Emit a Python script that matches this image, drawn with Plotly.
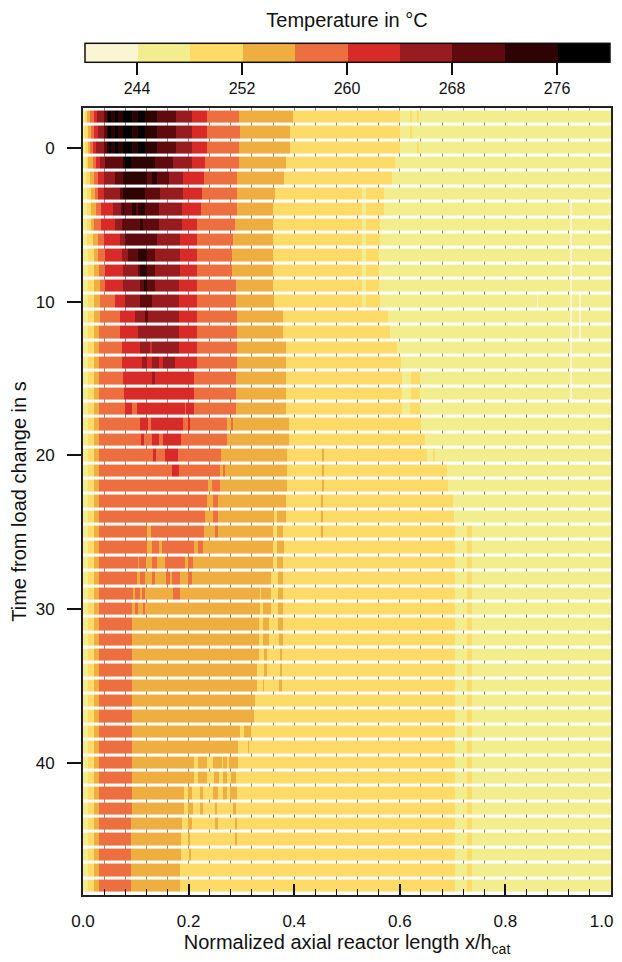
import numpy as np
import plotly.graph_objects as go

# ---------------- data ----------------
times = list(range(-2, 49))          # one row per second
N = None

# x positions where the temperature rises above / falls below each threshold (°C)
rise_248 = [.003, .004, .004, .005, .006, .007, .007, .007, .008, .009, .009, .010] + [.009] * 5 + [.010] * 34
rise_252 = [.007, .009, .009, .010, .013, .016, .016, .016, .018, .020, .020, .021] + [.020] * 39
rise_256 = [.013, .015, .013, .018, .020, .023, .024, .021, .029, .029, .030, .032, .032, .032] + [.030] * 37
rise_260 = [.020, .020, .018, .024, .029, .029, .035, .035, .039, .042, .042, .042, .061, .070, .070,
            .073, .073, .076, .078, .080, .108, .152, .155, .169] + [N] * 27
rise_264 = [.026, .028, .024, .032, .039, .040, .056, .061, .070, .073, .076, .076, .080, .098, .105,
            .108, .111] + [N] * 34
rise_268 = [.039, .039, .039, .042, .061, .070, .072, .073, .080, .086, .105, .108, .108] + [N] * 38
rise_272 = [.045, .045, .045, .076, .076, .076, .105, .108] + [N] * 43
rise_276 = [.076, .076, .076, .080] + [N] * 47

fall_248 = [.600, .600, .600, .590, .586, .570, .570, .563, .563, .560, .560, .560, .563, .578, .581,
            .594, .602, .638, .638, .638, .641, .648, .667, .689, .692, .700, .703] + [.705] * 24
fall_252 = [.397, .392, .392, .385, .381, .364, .359, .359, .360, .360, .360, .360, .362, .379, .379,
            .385, .385, .385, .385, .385, .391, .391, .386, .387, .387, .385, .362, .359, .360, .360,
            .356, .336, .335, .333, .333, .333, .330, .330, .326, .324, .297, .294, .234, .234, .192,
            .192, .187, .186, .186, .184, .184]
fall_256 = [.295, .298, .295, .295, .292, .292, .291, .288, .285, .282, .282, .290, .290, .291, .292,
            .292, .292, .290, .290, .290, .285, .279, .262, .269, .259, .256, .255, .255, .228, .209,
            .206, .095, .093, .093] + [.092] * 12 + [.091] * 5
fall_260 = [.234, .234, .234, .231, .230, .226, .224] + [.216] * 10 + [.210] * 3 + [.190, .186, .179, .181] + [N] * 27
fall_264 = [.206, .206, .206, .206, .190, .190, .187, .187, .184, .184, .184, .181, .181, .181, .181,
            .181, .174] + [N] * 34
fall_268 = [.177, .177, .177, .171, .162, .146, .143, .143, .140, .136, .136, .136, .130] + [N] * 38
fall_272 = [.140, .140, .140, .136, .121, .117, .117, .114] + [N] * 43
fall_276 = [.117, .117, .117, .091] + [N] * 47

# local streaks: (time, x from, x to, temperature bin index 0..9)
patches = [
    (-2, .048, .053, 9), (-2, .061, .066, 9), (-2, .092, .105, 8),
    (-1, .048, .053, 9), (-1, .061, .066, 9), (-1, .092, .104, 8),
    (0, .049, .053, 9), (0, .061, .066, 9), (0, .092, .105, 8),
    (2, .131, .140, 8), (4, .075, .078, 8), (4, .092, .100, 8),
    (7, .105, .121, 8), (8, .108, .121, 8), (9, .116, .122, 8),
    (11, .118, .124, 7), (13, .127, .131, 5), (14, .121, .130, 5), (14, .143, .152, 5),
    (15, .131, .136, 6), (17, .092, .102, 4), (17, .193, .196, 4),
    (18, .124, .129, 4), (18, .199, .203, 5), (18, .272, .280, 3),
    (19, .110, .116, 5), (19, .131, .144, 5), (19, .272, .282, 3),
    (20, .133, .138, 5), (20, .452, .456, 3), (20, .651, .663, 1),
    (21, .259, .266, 3), (21, .452, .456, 3), (22, .237, .245, 3), (22, .452, .456, 3),
    (23, .234, .247, 3), (23, .450, .455, 3),
    (24, .231, .247, 3), (24, .368, .385, 3), (24, .450, .455, 3),
    (25, .121, .129, 3), (25, .230, .250, 3), (25, .367, .379, 3), (25, .450, .455, 3),
    (26, .121, .131, 3), (26, .143, .150, 3), (26, .211, .218, 3), (26, .367, .380, 3),
    (27, .104, .106, 3), (27, .119, .131, 3), (27, .140, .155, 3), (27, .193, .198, 3), (27, .368, .378, 3),
    (28, .102, .108, 3), (28, .117, .131, 3), (28, .136, .158, 3), (28, .165, .169, 3), (28, .184, .199, 3),
    (28, .370, .378, 3),
    (29, .098, .108, 4), (29, .111, .117, 4), (29, .171, .184, 4), (29, .338, .356, 3), (29, .370, .378, 3),
    (30, .099, .104, 4), (30, .114, .117, 4), (30, .340, .356, 3), (30, .370, .378, 3),
    (31, .340, .353, 3), (31, .370, .378, 3), (32, .341, .353, 3), (32, .372, .378, 3),
    (33, .343, .348, 3), (33, .374, .377, 3), (34, .343, .348, 3), (34, .374, .377, 3),
    (35, .341, .343, 3), (35, .372, .377, 3),
    (38, .304, .319, 3), (39, .312, .314, 3),
    (40, .211, .217, 2), (40, .247, .263, 3), (40, .266, .273, 3), (40, .277, .294, 3),
    (41, .211, .217, 2), (41, .248, .257, 3), (41, .266, .272, 3), (41, .280, .290, 3),
    (42, .198, .207, 3), (42, .222, .228, 3), (42, .247, .256, 3), (42, .266, .272, 3), (42, .278, .291, 3),
    (43, .198, .209, 3), (43, .222, .228, 3), (43, .250, .254, 3), (43, .285, .290, 3),
    (44, .199, .206, 3), (44, .250, .255, 3), (44, .288, .291, 3),
    (45, .199, .203, 3), (45, .288, .291, 3), (46, .200, .204, 3),
    (-2, .620, .624, 2), (-2, .632, .636, 2), (-1, .620, .624, 2), (0, .632, .636, 2),
    (15, .604, .622, 1), (16, .604, .622, 1), (17, .604, .620, 1),
    (10, .859, .862, 0), (10, .939, .944, 0), (11, .939, .944, 0), (12, .939, .944, 0),
]
l1_streak_rows = [3, 4, 5, 6, 7, 8, 9, 10]            # pale streak near x = 0.53
l0_streak_rows = list(range(4, 17))                   # cream streak near x = 0.92
l2_streak_rows = list(range(25, 49))                  # yellow streak near x = 0.73

bin_edges = [240, 244, 248, 252, 256, 260, 264, 268, 272, 276, 280]
bin_colors = ["#FAF6D3", "#F2EE8E", "#FDDB66", "#EFAF40", "#ED6E3E",
              "#D82A27", "#971B1F", "#5F0A0C", "#2D0303", "#000000"]
tick_vals = [244, 252, 260, 268, 276]
x_tick_vals = [0.0, 0.2, 0.4, 0.6, 0.8, 1.0]
x_tick_text = ["0.0", "0.2", "0.4", "0.6", "0.8", "1.0\u00a0\u00a0\u00a0\u00a0"]

# ---------------- build the temperature table ----------------
xc = np.arange(0.0005, 1.0, 0.001)
rises = [rise_248, rise_252, rise_256, rise_260, rise_264, rise_268, rise_272, rise_276]
falls = [fall_248, fall_252, fall_256, fall_260, fall_264, fall_268, fall_272, fall_276]
level = np.ones((len(times), xc.size), dtype=int)
for r, f in zip(rises, falls):
    for i in range(len(times)):
        if r[i] is not None:
            level[i] += ((xc >= r[i]) & (xc < f[i])).astype(int)
extra = list(patches)
extra += [(t, .528, .536, 1) for t in l1_streak_rows]
extra += [(t, .922, .927, 0) for t in l0_streak_rows]
extra += [(t, .728, .736, 2) for t in l2_streak_rows]
for t, a, b, lv in extra:
    i = times.index(t)
    level[i][(xc >= a) & (xc < b)] = lv
z = np.array(bin_edges[:-1])[level] + 2.0

cscale = []
nb = len(bin_colors)
for k, c in enumerate(bin_colors):
    cscale.append([k / nb, c])
    cscale.append([(k + 1) / nb, c])

FONT = "Liberation Sans, Arial, sans-serif"
INK = "#111111"
fig = go.Figure(go.Heatmap(
    x=xc, y=times, z=z, zmin=bin_edges[0], zmax=bin_edges[-1],
    colorscale=cscale, ygap=3, hoverinfo="skip",
    colorbar=dict(
        orientation="h", x=0.5, xanchor="center", y=1.013, yanchor="bottom",
        len=0.994, lenmode="fraction", thickness=19, xpad=0, ypad=0,
        outlinewidth=1.5, outlinecolor=INK,
        tickmode="array", tickvals=tick_vals, ticks="outside", ticklen=12,
        tickwidth=1.5, tickcolor=INK,
        tickfont=dict(size=16, color=INK, family=FONT),
        title=dict(text="Temperature in °C", side="top",
                   font=dict(size=20, color=INK, family=FONT)),
    ),
))

# the page adds an 8px body margin; the figure is offset by it (scrolling disabled)
fig.update_layout(
    width=622, height=954,
    margin=dict(l=75, r=19, t=100, b=67, autoexpand=False),
    paper_bgcolor="white", plot_bgcolor="white",
    font=dict(family=FONT, color=INK),
)
fig.update_xaxes(
    range=[0, 1], tickmode="array", tickvals=x_tick_vals, ticktext=x_tick_text,
    ticks="inside", ticklen=11, tickwidth=1.5, tickcolor=INK,
    showgrid=True, gridcolor="#8c8c8c", gridwidth=1,
    minor=dict(tickmode="linear", tick0=0, dtick=0.04, ticks="inside", ticklen=6, tickwidth=1.2,
               tickcolor=INK, showgrid=True, gridcolor="#8c8c8c", gridwidth=1),
    showline=True, mirror=True, linecolor="#222", linewidth=2,
    tickfont=dict(size=17), ticklabelstandoff=10, ticklabeloverflow="allow",
    title=dict(text="Normalized axial reactor length x/h<sub>cat</sub>",
               font=dict(size=20), standoff=18),
    zeroline=False,
)
fig.update_yaxes(
    range=[48.6, -2.6], tickmode="array", tickvals=[0, 10, 20, 30, 40],
    ticks="outside", ticklen=14, tickwidth=1.5, tickcolor=INK,
    showgrid=False, zeroline=False,
    showline=True, mirror=True, linecolor="#222", linewidth=2,
    tickfont=dict(size=17), ticklabelstandoff=9,
    title=dict(text="Time from load change in s", font=dict(size=20), standoff=5),
)

fig.write_html(
    "out.html",
    post_script="document.documentElement.style.overflow='hidden';"
                "document.body.style.overflow='hidden';",
)
